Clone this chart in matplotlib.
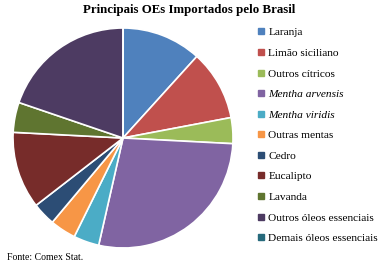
import matplotlib
matplotlib.use("Agg")
import matplotlib.pyplot as plt
from matplotlib.lines import Line2D

plt.rcParams['font.family'] = ['Liberation Serif', 'DejaVu Serif']

# dados (% aproximado)
labels = ['Laranja', 'Limão siciliano', 'Outros cítricos', 'Mentha arvensis',
          'Mentha viridis', 'Outras mentas', 'Cedro', 'Eucalipto', 'Lavanda',
          'Outros óleos essenciais', 'Demais óleos essenciais']
values = [11.7, 10.3, 3.8, 27.7, 3.75, 3.8, 3.4, 11.3, 4.4, 19.75, 0.0]
colors = ['#4F81BD', '#C0504D', '#9BBB59', '#8064A2', '#4BACC6', '#F79646',
          '#2C4D75', '#772C2A', '#5F7530', '#4D3B62', '#276A7C']
italic = ['Mentha arvensis', 'Mentha viridis']

W, H = 382, 274
fig = plt.figure(figsize=(W / 100, H / 100), dpi=100)

# pizza: centro (123,138) px, raio 110 px
cx, cy, r = 123, 138, 110
ax = fig.add_axes([(cx - r) / W, (H - cy - r) / H, 2 * r / W, 2 * r / H])
ax.pie(values, colors=colors, startangle=90, counterclock=False,
       wedgeprops=dict(edgecolor='white', linewidth=1.2))
ax.set_xlim(-1, 1)
ax.set_ylim(-1, 1)
ax.set_aspect('auto')
ax.axis('off')

fig.text(189 / W, 1 - 10 / H, 'Principais OEs Importados pelo Brasil',
         ha='center', va='center', fontsize=9.3, fontweight='bold')

handles = [Line2D([], [], marker='s', linestyle='none', color=c, markersize=4)
           for c in colors]
leg = fig.legend(handles, labels, loc='upper left',
                 bbox_to_anchor=(258 / W, 1 - 27.5 / H), frameon=False,
                 fontsize=8.2, handlelength=0.6, handletextpad=0.3,
                 labelspacing=0.93, borderaxespad=0, borderpad=0)
for t in leg.get_texts():
    if t.get_text() in italic:
        t.set_style('italic')

fig.text(7 / W, 1 - 258 / H, 'Fonte: Comex Stat.', ha='left', va='center',
         fontsize=7)

fig.savefig('out.png', dpi=100)
